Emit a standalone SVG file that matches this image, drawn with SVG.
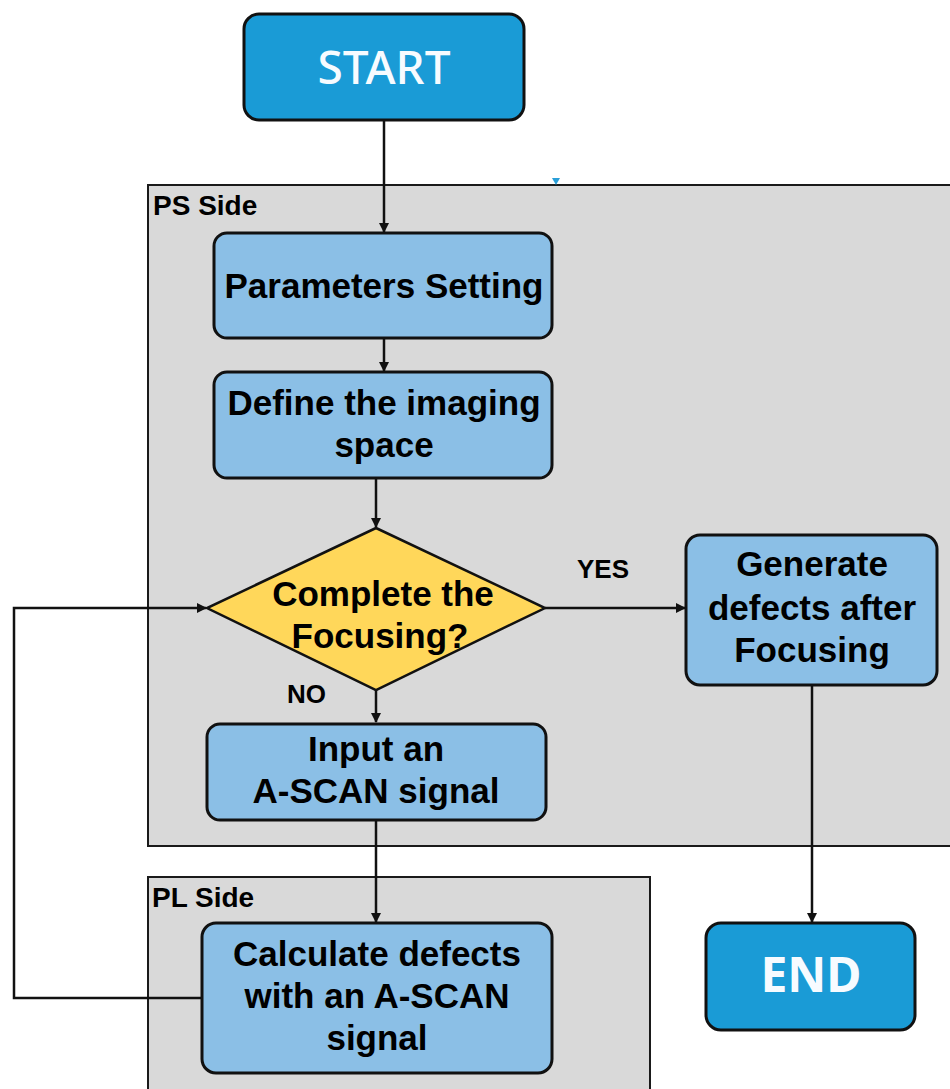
<svg xmlns="http://www.w3.org/2000/svg" width="950" height="1089" viewBox="0 0 950 1089">
<style>
.region{fill:#d9d9d9;stroke:#1a1a1a;stroke-width:2}
.term{fill:#1a9bd6;stroke:#111;stroke-width:3}
.proc{fill:#8bbfe6;stroke:#111;stroke-width:3}
.dec{fill:#ffd75a;stroke:#111;stroke-width:2.5}
.t{font-family:"Liberation Sans",Arial,sans-serif;font-weight:bold;font-size:35px;fill:#000;text-anchor:middle}
.lbl{font-family:"Liberation Sans",Arial,sans-serif;font-weight:bold;font-size:26px;fill:#000}
.side{font-size:28px}
.tw{font-family:"Noto Sans","Open Sans",sans-serif;fill:#f7fbff;text-anchor:middle}
.conn{fill:none;stroke:#111;stroke-width:2.5}
</style>
<defs>
<marker id="arr" markerWidth="10" markerHeight="10" refX="9" refY="5" orient="auto" markerUnits="userSpaceOnUse">
<path d="M0,0 L10,5 L0,10 Z" fill="#111"/>
</marker>
</defs>
<rect width="950" height="1089" fill="#fff"/>
<g id="ps-side">
<rect class="region" x="148" y="185" width="806" height="661"/>
<text class="lbl side" x="153" y="215">PS Side</text>
</g>
<g id="pl-side">
<rect class="region" x="148" y="877" width="502" height="216"/>
<text class="lbl side" x="152" y="907">PL Side</text>
</g>
<polygon points="552,178 560,178 556,185" fill="#2a9fd8"/>
<g id="connectors">
<line class="conn" x1="384" y1="120" x2="384" y2="232" marker-end="url(#arr)"/>
<line class="conn" x1="384" y1="338" x2="384" y2="371" marker-end="url(#arr)"/>
<line class="conn" x1="376" y1="478" x2="376" y2="527" marker-end="url(#arr)"/>
<line class="conn" x1="376" y1="690" x2="376" y2="722" marker-end="url(#arr)"/>
<line class="conn" x1="376" y1="820" x2="376" y2="922" marker-end="url(#arr)"/>
<line class="conn" x1="545" y1="608" x2="685" y2="608" marker-end="url(#arr)"/>
<line class="conn" x1="812" y1="685" x2="812" y2="922" marker-end="url(#arr)"/>
<polyline class="conn" points="202,998 14,998 14,608 206,608" marker-end="url(#arr)"/>
<text class="lbl" x="577" y="578">YES</text>
<text class="lbl" x="287" y="703">NO</text>
</g>
<g id="start">
<rect class="term" x="244" y="14" width="280" height="106" rx="15"/>
<text class="tw" x="384" y="84" font-size="46" font-weight="500">START</text>
</g>
<g id="params">
<rect class="proc" x="214" y="233" width="338" height="105" rx="13"/>
<text class="t" x="384" y="298">Parameters Setting</text>
</g>
<g id="define">
<rect class="proc" x="214" y="372" width="338" height="106" rx="13"/>
<text class="t" x="384" y="415">Define the imaging</text>
<text class="t" x="384" y="457">space</text>
</g>
<g id="decision">
<polygon class="dec" points="376,528 545,608 376,690 207,608"/>
<text class="t" x="383" y="606">Complete the</text>
<text class="t" x="380" y="648">Focusing?</text>
</g>
<g id="input">
<rect class="proc" x="207" y="724" width="339" height="96" rx="13"/>
<text class="t" x="376" y="761">Input an</text>
<text class="t" x="376" y="803">A-SCAN signal</text>
</g>
<g id="calculate">
<rect class="proc" x="202" y="923" width="350" height="150" rx="14"/>
<text class="t" x="377" y="966">Calculate defects</text>
<text class="t" x="377" y="1008">with an A-SCAN</text>
<text class="t" x="377" y="1050">signal</text>
</g>
<g id="generate">
<rect class="proc" x="686" y="535" width="251" height="150" rx="14"/>
<text class="t" x="812" y="576">Generate</text>
<text class="t" x="812" y="620">defects after</text>
<text class="t" x="812" y="662">Focusing</text>
</g>
<g id="end">
<rect class="term" x="706" y="923" width="209" height="107" rx="15"/>
<text class="tw" x="811" y="992" font-size="48" font-weight="bold">END</text>
</g>
</svg>
